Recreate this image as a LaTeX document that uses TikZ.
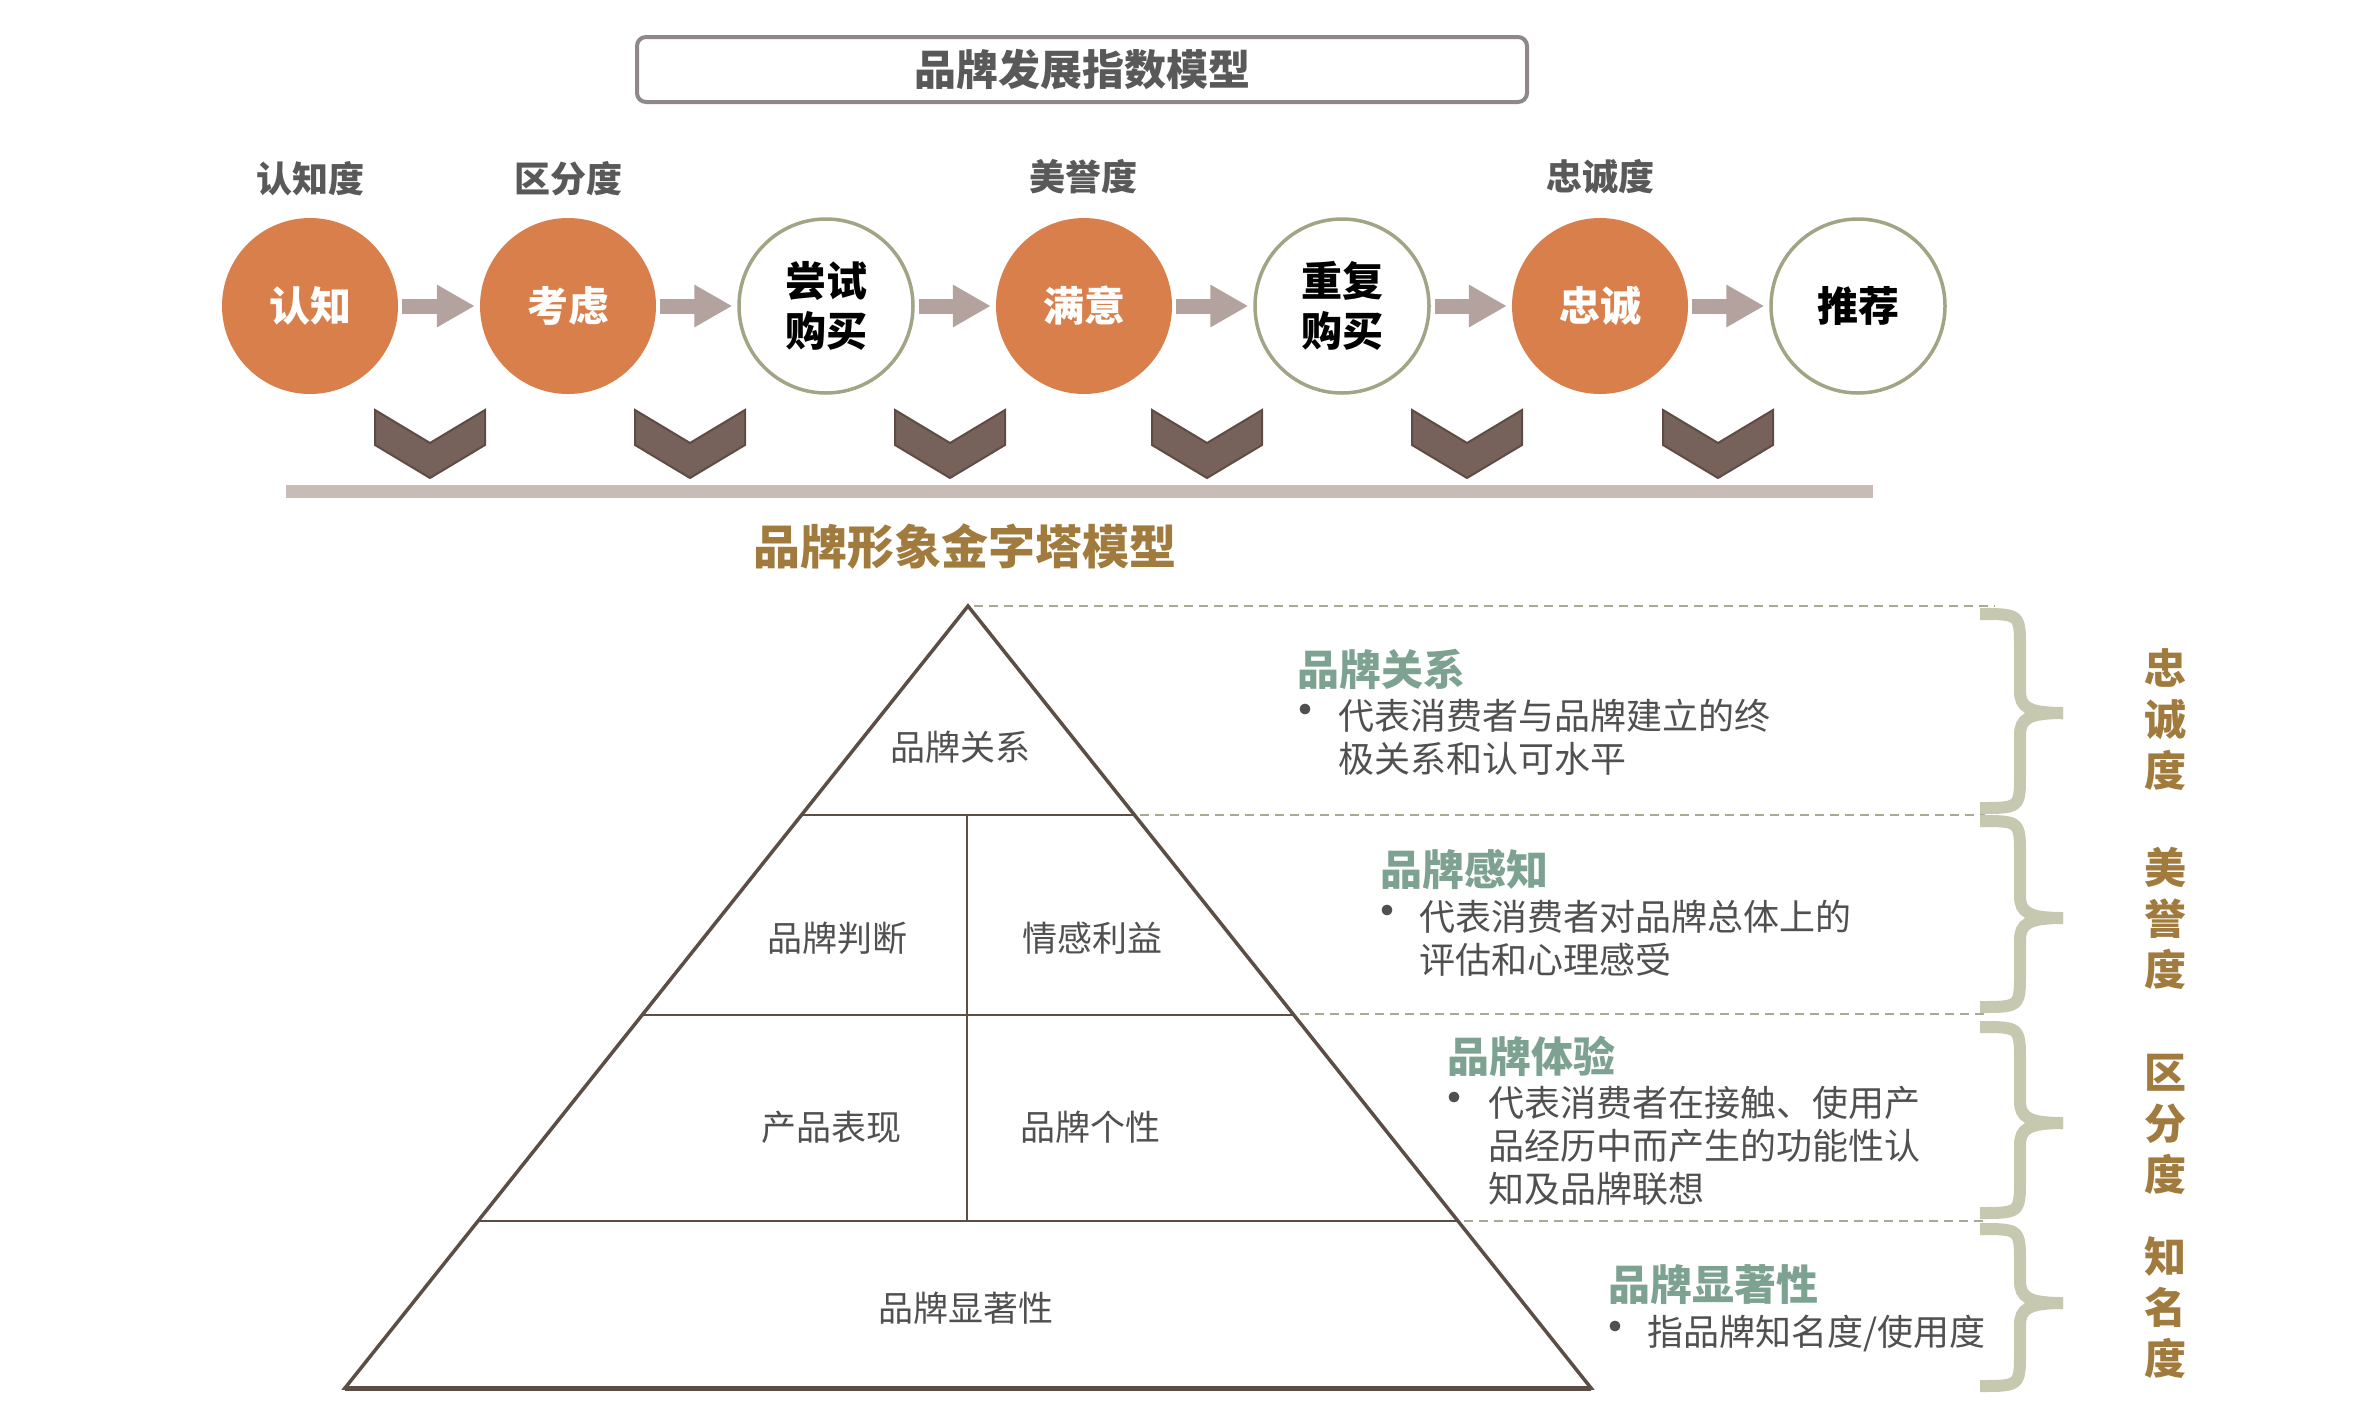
\documentclass[tikz,border=0pt]{standalone}
\usepackage{fontspec}
\setmainfont{Noto Sans CJK SC}
\newfontfamily\heavyfont{Noto Sans CJK SC Black}
\usetikzlibrary{arrows.meta}
\definecolor{orangeC}{HTML}{D97F4B}
\definecolor{ringC}{HTML}{A3A486}
\definecolor{arrowC}{HTML}{B3A29D}
\definecolor{chevC}{HTML}{76625A}
\definecolor{chevD}{HTML}{5E4C44}
\definecolor{barC}{HTML}{C9BCB7}
\definecolor{boxC}{HTML}{8F8888}
\definecolor{titleC}{HTML}{595959}
\definecolor{pyrC}{HTML}{5C4D45}
\definecolor{dashC}{HTML}{A9AA92}
\definecolor{braceC}{HTML}{C6C8AF}
\definecolor{goldC}{HTML}{A17B3D}
\definecolor{tealC}{HTML}{7DA292}
\definecolor{bodyC}{HTML}{505050}
\newcommand{\drawbrace}[3]{%
  \draw[bracestyle] (1980,#1) .. controls (2020,#1) and (2020,#1) .. (2020,#1+35) -- (2020,#2-22) .. controls (2020,#2-6) and (2028,#2) .. (2063,#2);
  \draw[bracestyle] (2063,#2) .. controls (2028,#2) and (2020,#2+6) .. (2020,#2+22) -- (2020,#3-35) .. controls (2020,#3) and (2020,#3) .. (1980,#3);}
\begin{document}
\begin{tikzpicture}[x=1pt,y=-1pt,
  orangecirc/.style={circle, fill=orangeC, minimum size=176pt, inner sep=0pt, text=white, align=center, font=\heavyfont\fontsize{41}{50}\selectfont},
  ringcirc/.style={circle, draw=ringC, line width=3.5pt, fill=white, minimum size=174pt, inner sep=0pt, text=black, align=center, font=\heavyfont\fontsize{41}{50}\selectfont},
  toplabel/.style={inner sep=0pt, text=titleC, font=\bfseries\fontsize{36}{42}\selectfont},
  blockarrow/.style={draw=arrowC, line width=15pt, -{Triangle[width=40pt,length=38pt]}, shorten <=4pt, shorten >=5pt},
  chev/.style={fill=chevC, draw=chevD, line width=2pt, line join=miter},
  pyredge/.style={draw=pyrC, line width=3.5pt, line join=miter},
  pyrline/.style={draw=pyrC, line width=2.5pt},
  pyrtext/.style={inner sep=0pt, text=bodyC, font=\fontsize{35}{42}\selectfont},
  dashline/.style={draw=dashC, line width=2.5pt, dash pattern=on 9pt off 6pt},
  bracestyle/.style={draw=braceC, line width=12pt, line cap=butt},
  vlabel/.style={inner sep=0pt, align=center, text=goldC, font=\bfseries\fontsize{42}{51}\selectfont},
  heading/.style={inner sep=0pt, anchor=west, text=tealC, font=\bfseries\fontsize{42}{50}\selectfont},
  bodytext/.style={inner sep=0pt, anchor=west, align=left, text=bodyC, font=\fontsize{36}{43}\selectfont},
  bulletmark/.style={inner sep=0pt, text=bodyC, font=\fontsize{50}{56}\selectfont}
]
\useasboundingbox (0,0) rectangle (2374,1406);

% title box
\node[draw=boxC, line width=4pt, rounded corners=9pt, minimum width=890pt, minimum height=65pt, inner sep=0pt, text=titleC, font=\bfseries\fontsize{42}{50}\selectfont] (title) at (1082,69.5) {品牌发展指数模型};

% top labels
\node[toplabel] (l1) at (310,179) {认知度};
\node[toplabel] (l2) at (568,179) {区分度};
\node[toplabel] (l4) at (1083,177) {美誉度};
\node[toplabel] (l6) at (1600,177) {忠诚度};

% circles
\node[orangecirc] (c1) at (310,306) {认知};
\node[orangecirc] (c2) at (568,306) {考虑};
\node[ringcirc] (c3) at (826,306) {尝试\\购买};
\node[orangecirc] (c4) at (1084,306) {满意};
\node[ringcirc] (c5) at (1342,306) {重复\\购买};
\node[orangecirc] (c6) at (1600,306) {忠诚};
\node[ringcirc] (c7) at (1858,306) {推荐};

% arrows
\draw[blockarrow] (c1) -- (c2);
\draw[blockarrow] (c2) -- (c3);
\draw[blockarrow] (c3) -- (c4);
\draw[blockarrow] (c4) -- (c5);
\draw[blockarrow] (c5) -- (c6);
\draw[blockarrow] (c6) -- (c7);

% chevrons
\foreach \cx in {430,690,950,1207,1467,1718}{
  \filldraw[chev] (\cx-55,410) -- (\cx,443) -- (\cx+55,410) -- (\cx+55,445) -- (\cx,478) -- (\cx-55,445) -- cycle;
}

% bar
\fill[barC] (286,485) rectangle (1873,498);

% pyramid title
\node[inner sep=0pt, text=goldC, font=\bfseries\fontsize{47}{56}\selectfont] (ptitle) at (965,547) {品牌形象金字塔模型};

% pyramid
\coordinate (apex) at (968,606);
\coordinate (bl) at (345,1388);
\coordinate (br) at (1591,1388);
\draw[pyredge] (apex) -- (br) -- (bl) -- cycle;
\draw[pyrC, line width=5pt] (bl) -- (br);
\draw[pyrline] (801.5,815) -- (1134.5,815);
\draw[pyrline] (642,1015) -- (1294,1015);
\draw[pyrline] (478,1221) -- (1458,1221);
\draw[pyrline] (967,815) -- (967,1221);

\node[pyrtext] (p1) at (960,747) {品牌关系};
\node[pyrtext] (p2) at (837,938) {品牌判断};
\node[pyrtext] (p3) at (1092,938) {情感利益};
\node[pyrtext] (p4) at (831,1127) {产品表现};
\node[pyrtext] (p5) at (1090,1127) {品牌个性};
\node[pyrtext] (p6) at (966,1308) {品牌显著性};

% dashed guides
\draw[dashline] (974,606) -- (1995,606);
\draw[dashline] (1140,815) -- (1985,815);
\draw[dashline] (1300,1014) -- (1985,1014);
\draw[dashline] (1464,1221) -- (1985,1221);

% braces
\drawbrace{614}{713}{808}
\drawbrace{821}{918}{1007}
\drawbrace{1027}{1123}{1213}
\drawbrace{1229}{1303}{1386}

% vertical labels
\node[vlabel] (v1) at (2165,720) {忠\\诚\\度};
\node[vlabel] (v2) at (2165,918) {美\\誉\\度};
\node[vlabel] (v3) at (2165,1124) {区\\分\\度};
\node[vlabel] (v4) at (2165,1308) {知\\名\\度};

% descriptions
\node[heading] (h1) at (1297,669) {品牌关系};
\node[bulletmark] (b1) at (1305,716) {•};
\node[bodytext] (t1) at (1338,737.5) {代表消费者与品牌建立的终\\极关系和认可水平};

\node[heading] (h2) at (1380,869) {品牌感知};
\node[bulletmark] (b2) at (1387,917) {•};
\node[bodytext] (t2) at (1419,938) {代表消费者对品牌总体上的\\评估和心理感受};

\node[heading] (h3) at (1447,1056) {品牌体验};
\node[bulletmark] (b3) at (1454,1104) {•};
\node[bodytext] (t3) at (1488,1146) {代表消费者在接触、使用产\\品经历中而产生的功能性认\\知及品牌联想};

\node[heading] (h4) at (1608,1285) {品牌显著性};
\node[bulletmark] (b4) at (1615,1333) {•};
\node[bodytext] (t4) at (1647,1333) {指品牌知名度/使用度};
\end{tikzpicture}
\end{document}
